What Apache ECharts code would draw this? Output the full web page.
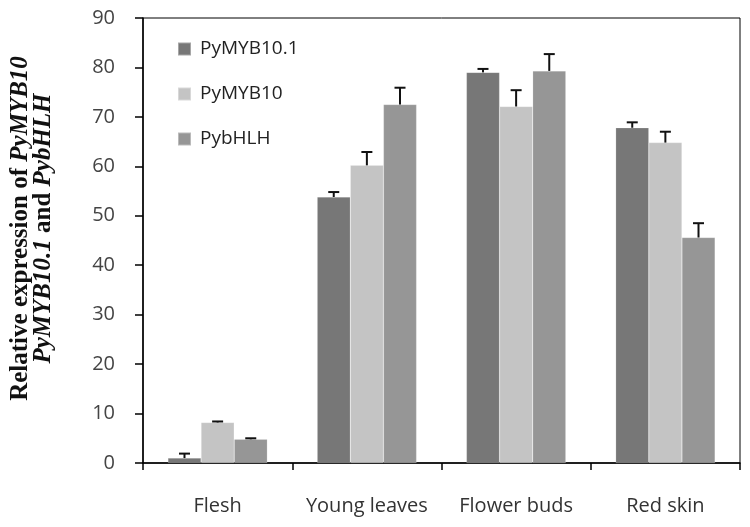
<!DOCTYPE html>
<html>
<head>
<meta charset="utf-8">
<script src="https://cdn.jsdelivr.net/npm/echarts@6/dist/echarts.min.js"></script>
<style>
  html, body { margin: 0; padding: 0; background: #fff; }
  #chart { width: 750px; height: 527px; }
</style>
</head>
<body>
<div id="chart"></div>
<script>
const categories = ['Flesh', 'Young leaves', 'Flower buds', 'Red skin']
const seriesNames = ['PyMYB10.1', 'PyMYB10', 'PybHLH']

// mean values per series (one per category)
const myb101 = [1.0, 53.8, 79.0, 67.8]
const myb10 = [8.2, 60.2, 72.1, 64.8]
const bhlh = [4.8, 72.5, 79.3, 45.6]

// error bar sizes (upper only)
const myb101Err = [0.9, 1.0, 0.7, 1.1]
const myb10Err = [0.2, 2.7, 3.3, 2.2]
const bhlhErr = [0.2, 3.4, 3.4, 2.9]

const yTicks = [0, 10, 20, 30, 40, 50, 60, 70, 80, 90]

const colors = ['#777777', '#c4c4c4', '#969696']
const BAR_W = 0.222

const chart = echarts.init(document.getElementById('chart'))

const means = [myb101, myb10, bhlh]
const errs = [myb101Err, myb10Err, bhlhErr]

// error bars drawn with a custom series, one per bar series
const errorSeries = (idx) => ({
  type: 'custom',
  name: seriesNames[idx] + ' err',
  z: 10,
  silent: true,
  data: categories.map((c, i) => [i, means[idx][i], means[idx][i] + errs[idx][i]]),
  renderItem: (params, api) => {
    const band = api.size([1, 0])[0]
    const offset = (idx - 1) * BAR_W * band
    const base = api.coord([api.value(0), api.value(1)])
    const top = api.coord([api.value(0), api.value(2)])
    const x = base[0] + offset
    const cap = 5.5
    const style = { stroke: '#111', lineWidth: 2 }
    return {
      type: 'group',
      children: [
        { type: 'line', shape: { x1: x, y1: base[1], x2: x, y2: top[1] }, style },
        { type: 'line', shape: { x1: x - cap, y1: top[1], x2: x + cap, y2: top[1] }, style }
      ]
    }
  }
})

const option = {
  animation: false,
  backgroundColor: '#fff',
  grid: {
    left: 137,
    right: 10,
    top: 18,
    bottom: 64,
    show: true,
    borderColor: '#000',
    borderWidth: 1
  },
  legend: {
    orient: 'vertical',
    left: 172,
    top: 34,
    itemGap: 25,
    itemWidth: 13,
    itemHeight: 13,
    icon: 'rect',
    data: seriesNames,
    textStyle: {
      fontFamily: 'Open Sans',
      fontSize: 19,
      lineHeight: 20,
      color: '#222',
      padding: [0, 0, 0, 4]
    }
  },
  xAxis: {
    type: 'category',
    data: categories,
    axisLine: { lineStyle: { color: '#000', width: 1.5 } },
    axisTick: { show: true, length: 7, lineStyle: { color: '#000', width: 1.5 } },
    axisLabel: {
      interval: 0,
      margin: 33,
      fontFamily: 'Open Sans',
      fontSize: 20,
      color: '#333'
    }
  },
  yAxis: {
    type: 'value',
    min: yTicks[0],
    max: yTicks[yTicks.length - 1],
    interval: 10,
    splitLine: { show: false },
    axisLine: { show: true, lineStyle: { color: '#000', width: 1.5 } },
    axisTick: { show: true, length: 8, lineStyle: { color: '#000', width: 1.5 } },
    axisLabel: {
      margin: 28,
      fontFamily: 'Open Sans',
      fontSize: 20,
      color: '#444'
    },
    name: '{b|Relative expression of }{bi|PyMYB10}\n{bi|PyMYB10.1}{b| and }{bi|PybHLH}',
    nameLocation: 'middle',
    nameRotate: 90,
    nameGap: 88,
    nameTextStyle: {
      align: 'center',
      lineHeight: 23,
      padding: [0, 0, 0, 24],
      rich: {
        b: { fontFamily: 'Liberation Serif', fontWeight: 'bold', fontSize: 25, color: '#111', lineHeight: 23 },
        bi: { fontFamily: 'Liberation Serif', fontWeight: 'bold', fontStyle: 'italic', fontSize: 25, color: '#111', lineHeight: 23 }
      }
    }
  },
  series: [
    ...seriesNames.map((name, idx) => ({
      name,
      type: 'bar',
      data: means[idx],
      barWidth: (BAR_W * 100) + '%',
      barGap: '0%',
      itemStyle: { color: colors[idx], borderColor: 'rgba(255,255,255,0.35)', borderWidth: 0.5 }
    })),
    errorSeries(0),
    errorSeries(1),
    errorSeries(2)
  ]
}

chart.setOption(option)
</script>
</body>
</html>
